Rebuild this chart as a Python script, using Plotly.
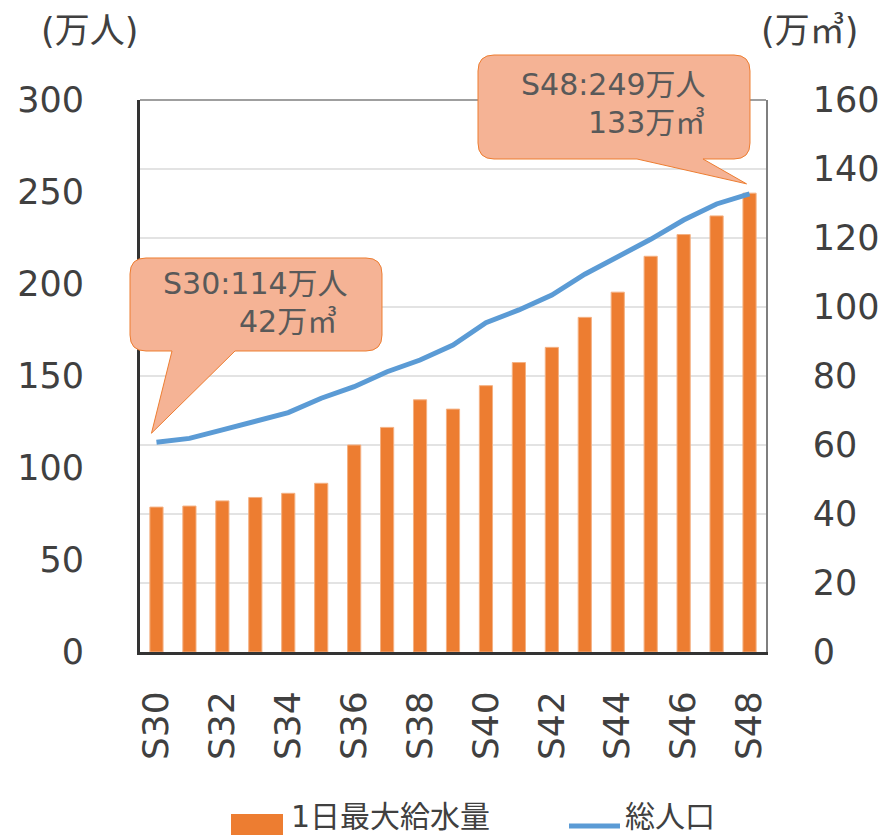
import plotly.graph_objects as go

# ---- data ----
years = ["S30", "S31", "S32", "S33", "S34", "S35", "S36", "S37", "S38", "S39",
         "S40", "S41", "S42", "S43", "S44", "S45", "S46", "S47", "S48"]
max_supply = [42, 42.3, 43.8, 44.8, 46.0, 48.9, 60.0, 65.1, 73.1, 70.4,
              77.2, 83.9, 88.3, 97.0, 104.3, 114.7, 121.0, 126.4, 133]      # 万㎥
population = [114, 116.1, 120.7, 125.2, 130.1, 137.9, 144.2, 152.3, 158.7, 166.8,
              179.0, 185.9, 194.0, 205.3, 214.8, 224.3, 234.8, 243.5, 249]  # 万人
xtick_labels = ["S30", "S32", "S34", "S36", "S38", "S40", "S42", "S44", "S46", "S48"]
left_ticks = [0, 50, 100, 150, 200, 250, 300]
right_ticks = [0, 20, 40, 60, 80, 100, 120, 140, 160]
callouts = [
    ("S30", "S30:114万人", "42万㎥"),
    ("S48", "S48:249万人", "133万㎥"),
]

# ---- layout constants (pixels) ----
FIG_W, FIG_H = 893, 835
L, R, T, B = 140, 127, 100, 183
PW, PH = FIG_W - L - R, FIG_H - T - B
FONT = "DejaVu Sans, Noto Sans CJK JP, sans-serif"
ORANGE = "#ED7D31"
BLUE = "#5B9BD5"
TXT = "#404040"


def px(x):
    return (x - L) / PW


def py(y):
    return (FIG_H - B - y) / PH


def data_px(cat, val):
    """pixel position of a population point (left axis, 0-300)"""
    i = years.index(cat)
    x = L + (i + 0.5) * PW / len(years)
    y = FIG_H - B - val / 300 * PH
    return x, y


def callout_path(x0, y0, x1, y1, r, base_a, base_b, tip):
    """rounded box with a pointer tail on the bottom edge (pixel inputs)"""
    P = lambda x, y: f"{px(x):.5f},{py(y):.5f}"
    d = [f"M {P(x0 + r, y0)}", f"L {P(x1 - r, y0)}", f"Q {P(x1, y0)} {P(x1, y0 + r)}",
         f"L {P(x1, y1 - r)}", f"Q {P(x1, y1)} {P(x1 - r, y1)}",
         f"L {P(base_b, y1)}", f"L {P(*tip)}", f"L {P(base_a, y1)}",
         f"L {P(x0 + r, y1)}", f"Q {P(x0, y1)} {P(x0, y1 - r)}",
         f"L {P(x0, y0 + r)}", f"Q {P(x0, y0)} {P(x0 + r, y0)}", "Z"]
    return " ".join(d)


fig = go.Figure()
fig.add_trace(go.Bar(
    x=years, y=max_supply, yaxis="y", width=0.4,
    marker=dict(color=ORANGE, line=dict(color="#F4B183", width=1)),
    name="1日最大給水量", showlegend=False,
))
fig.add_trace(go.Scatter(
    x=years, y=population, yaxis="y2", mode="lines",
    line=dict(color=BLUE, width=5), name="総人口", showlegend=False,
))

shapes = []
annotations = []

# plot frame: top edge
shapes.append(dict(type="line", xref="paper", yref="paper", x0=0, x1=1, y0=1, y1=1,
                   line=dict(color="#7F7F7F", width=1.5), layer="above"))

# callouts
box_geo = {
    "S30": dict(x0=130, y0=258, x1=382, y1=351, a=172, b=235, dy=-9, dx=-5,
                l1=(255, 283), l2=(288, 321)),
    "S48": dict(x0=478, y0=55, x1=750, y1=159, a=637, b=703, dy=-10, dx=-3,
                l1=(613, 84), l2=(646, 123)),
}
for cat, line1, line2 in callouts:
    g = box_geo[cat]
    val = population[years.index(cat)]
    tx, ty = data_px(cat, val)
    tip = (tx + g["dx"], ty + g["dy"])
    shapes.append(dict(type="path", xref="paper", yref="paper",
                       path=callout_path(g["x0"], g["y0"], g["x1"], g["y1"], 16,
                                         g["a"], g["b"], tip),
                       fillcolor="#F5B395", line=dict(color=ORANGE, width=1),
                       layer="above"))
    for (cx, cy), s in ((g["l1"], line1), (g["l2"], line2)):
        annotations.append(dict(xref="paper", yref="paper", x=px(cx), y=py(cy),
                                text=s, showarrow=False, xanchor="center",
                                yanchor="middle",
                                font=dict(family=FONT, size=30, color="#595959")))

# axis unit titles
annotations.append(dict(xref="paper", yref="paper", x=px(89), y=py(31), text="(万人)",
                        showarrow=False, xanchor="center", yanchor="middle",
                        font=dict(family=FONT, size=35, color=TXT)))
annotations.append(dict(xref="paper", yref="paper", x=px(809), y=py(31), text="(万㎥)",
                        showarrow=False, xanchor="center", yanchor="middle",
                        font=dict(family=FONT, size=35, color=TXT)))

# legend
shapes.append(dict(type="rect", xref="paper", yref="paper",
                   x0=px(231), x1=px(283), y0=py(835), y1=py(814),
                   fillcolor=ORANGE, line=dict(width=0)))
annotations.append(dict(xref="paper", yref="paper", x=px(289), y=py(816),
                        text="1日最大給水量", showarrow=False, xanchor="left",
                        yanchor="middle", font=dict(family=FONT, size=30, color=TXT)))
shapes.append(dict(type="line", xref="paper", yref="paper",
                   x0=px(569), x1=px(620), y0=py(826), y1=py(826),
                   line=dict(color=BLUE, width=5)))
annotations.append(dict(xref="paper", yref="paper", x=px(623), y=py(816),
                        text="総人口", showarrow=False, xanchor="left",
                        yanchor="middle", font=dict(family=FONT, size=30, color=TXT)))

fig.update_layout(
    width=FIG_W, height=FIG_H,
    margin=dict(l=L, r=R, t=T, b=B, pad=0),
    paper_bgcolor="white", plot_bgcolor="white",
    bargap=0.6,
    xaxis=dict(
        type="category", range=[-0.5, len(years) - 0.5],
        tickmode="array", tickvals=xtick_labels, ticktext=xtick_labels,
        tickangle=-90, tickfont=dict(family=FONT, size=36, color=TXT),
        showgrid=False, showline=True, linecolor="#333333", linewidth=3,
        ticks="", ticklabelstandoff=22, zeroline=False,
    ),
    yaxis=dict(
        side="right", range=[0, 160], tickvals=right_ticks,
        tickfont=dict(family=FONT, size=35, color=TXT),
        showgrid=True, gridcolor="#E3E3E3", gridwidth=2,
        showline=True, linecolor="#7F7F7F", linewidth=1.5,
        ticks="", ticklabelstandoff=38, zeroline=False,
    ),
    yaxis2=dict(
        overlaying="y", side="left", range=[0, 300], tickvals=left_ticks,
        tickfont=dict(family=FONT, size=35, color=TXT),
        showgrid=False, showline=True, linecolor="#333333", linewidth=3,
        ticks="", ticklabelstandoff=46, zeroline=False,
    ),
    shapes=shapes,
    annotations=annotations,
)

fig.write_html("out.html")
